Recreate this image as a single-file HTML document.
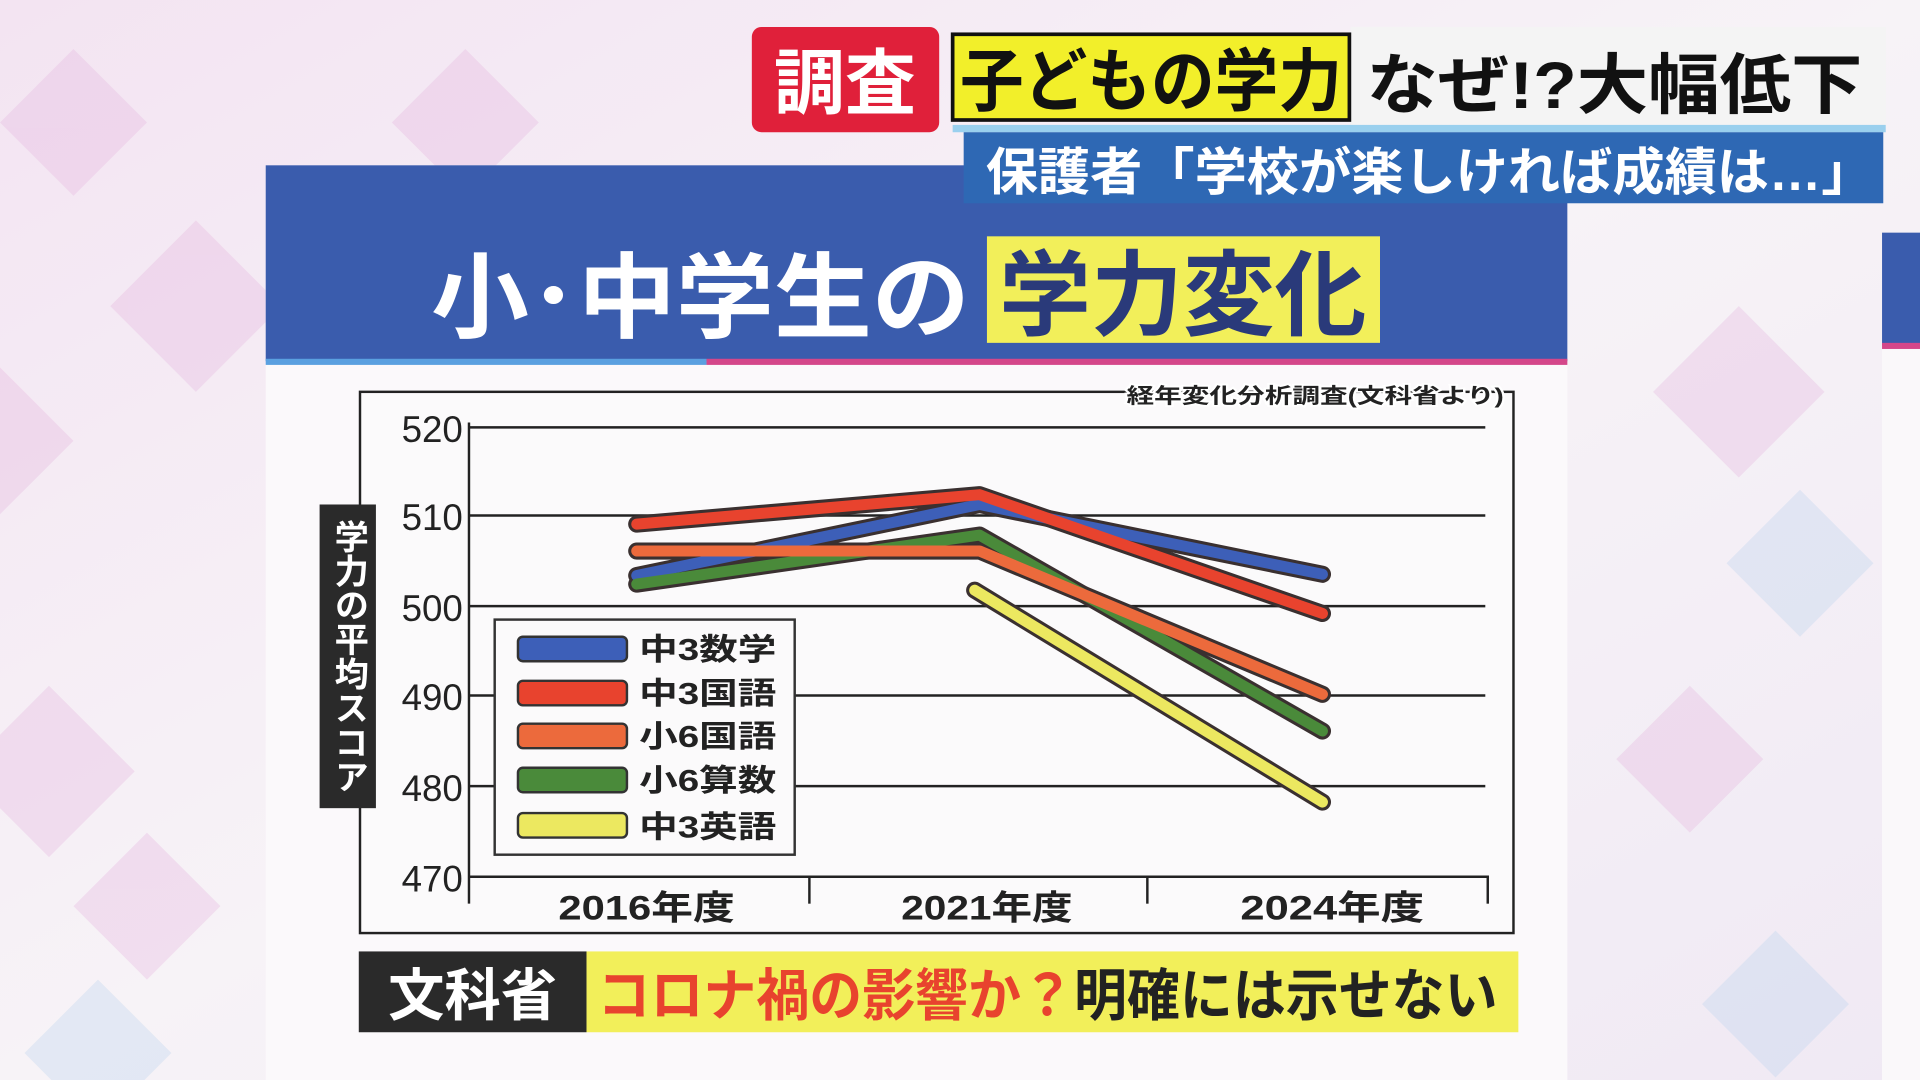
<!DOCTYPE html>
<html><head><meta charset="utf-8"><style>
html,body{margin:0;padding:0;width:1920px;height:1080px;overflow:hidden;background:#f4eff4}
#w{position:absolute;left:0;top:0;width:1568px;height:882px;transform:scale(1.22449);transform-origin:0 0;font-family:"Liberation Sans","Noto Sans CJK JP",sans-serif;font-weight:bold}
.a{position:absolute}
</style></head><body><div id="w">
<svg class="a" style="left:0;top:0" width="1568" height="882" font-family="Liberation Sans,Noto Sans CJK JP,sans-serif" font-weight="bold">
<defs><linearGradient id="bg" x1="0" y1="0" x2="1" y2="1"><stop offset="0" stop-color="#f3e4f2"/><stop offset="0.5" stop-color="#f7f3f7"/><stop offset="1" stop-color="#f0e9f4"/></linearGradient></defs>
<rect width="1568" height="882" fill="url(#bg)"/>
<g fill="#e6b8e0" opacity="0.35">
<polygon points="60,40 120,100 60,160 0,100"/><polygon points="160,180 230,250 160,320 90,250"/>
<polygon points="40,560 110,630 40,700 -30,630"/><polygon points="120,680 180,740 120,800 60,740"/>
<polygon points="0,300 60,360 0,420"/><polygon points="1420,250 1490,320 1420,390 1350,320"/>
<polygon points="1380,560 1440,620 1380,680 1320,620"/><polygon points="380,40 440,100 380,160 320,100"/>
</g>
<g fill="#bcd3ee" opacity="0.35"><polygon points="1470,400 1530,460 1470,520 1410,460"/><polygon points="1450,760 1510,820 1450,880 1390,820"/><polygon points="80,800 140,860 80,920 20,860"/></g>
<rect x="1537" y="190" width="31" height="92" fill="#3a5cad"/><rect x="1537" y="280" width="31" height="5" fill="#d4478a"/>
<rect x="1537" y="285" width="31" height="597" fill="#faf8fa"/>
<rect x="217" y="135" width="1063" height="747" fill="#fbf9fb"/>
<rect x="217" y="135" width="1063" height="160" fill="#3a5cad"/>
<rect x="217" y="293" width="360" height="5" fill="#5aa0e0"/><rect x="577" y="293" width="703" height="5" fill="#d4478a"/>
<rect x="806" y="193" width="321" height="87" fill="#f2ef5a"/>
<text x="352" y="270" font-size="76" fill="#fff" textLength="440" lengthAdjust="spacingAndGlyphs">小･中学生の</text>
<text x="816" y="268" font-size="76" fill="#2a3a7a" textLength="300" lengthAdjust="spacingAndGlyphs">学力変化</text>
<rect x="294" y="320" width="942" height="442" fill="#fbfafb" stroke="#222" stroke-width="2"/>
<g stroke="#222" stroke-width="2">
<line x1="383" y1="349" x2="1213" y2="349"/><line x1="383" y1="421" x2="1213" y2="421"/><line x1="383" y1="495" x2="1213" y2="495"/>
<line x1="383" y1="568" x2="1213" y2="568"/><line x1="383" y1="642" x2="1213" y2="642"/><line x1="383" y1="716" x2="1216" y2="716"/>
<line x1="383" y1="345" x2="383" y2="738"/><line x1="661" y1="716" x2="661" y2="738"/><line x1="937" y1="716" x2="937" y2="738"/><line x1="1215" y1="716" x2="1215" y2="738"/>
</g>
<g font-size="30" fill="#222" font-weight="normal" text-anchor="end">
<text x="378" y="361">520</text><text x="378" y="433">510</text><text x="378" y="507">500</text><text x="378" y="580">490</text><text x="378" y="654">480</text><text x="378" y="728">470</text></g>
<g font-size="28" fill="#222" text-anchor="middle">
<text x="528" y="751" textLength="144" lengthAdjust="spacingAndGlyphs">2016年度</text><text x="806" y="751" textLength="140" lengthAdjust="spacingAndGlyphs">2021年度</text><text x="1088" y="751" textLength="150" lengthAdjust="spacingAndGlyphs">2024年度</text></g>
<text x="920" y="329" font-size="17" fill="#222" stroke="#fff" stroke-width="3" paint-order="stroke" textLength="308" lengthAdjust="spacingAndGlyphs">経年変化分析調査(文科省より)</text>
<g fill="none" stroke-linecap="round" stroke-linejoin="round">
<g stroke="#3a3030" stroke-width="14">
<polyline points="520,470 800,412 1080,469"/><polyline points="520,428 800,404 1080,501"/><polyline points="520,450 800,450 1080,567"/><polyline points="520,477 800,437 1080,597"/><polyline points="796,482 1080,655"/></g>
<polyline points="520,470 800,412 1080,469" stroke="#3d5fb8" stroke-width="9"/>
<polyline points="520,477 800,437 1080,597" stroke="#4a8a3a" stroke-width="9"/>
<polyline points="520,450 800,450 1080,567" stroke="#ec6a3c" stroke-width="9"/>
<polyline points="520,428 800,404 1080,501" stroke="#e8432e" stroke-width="9"/>
<polyline points="796,482 1080,655" stroke="#ece860" stroke-width="9"/>
</g>
<rect x="404" y="506" width="245" height="192" fill="#fbfafb" stroke="#333" stroke-width="2"/>
<g stroke="#333" stroke-width="2"><rect x="423" y="520" width="89" height="20" rx="4" fill="#3d5fb8"/><rect x="423" y="556" width="89" height="20" rx="4" fill="#e8432e"/><rect x="423" y="591" width="89" height="20" rx="4" fill="#ec6a3c"/><rect x="423" y="627" width="89" height="20" rx="4" fill="#4a8a3a"/><rect x="423" y="664" width="89" height="20" rx="4" fill="#ece860"/></g>
<g font-size="25" fill="#222">
<text x="522" y="539" textLength="112" lengthAdjust="spacingAndGlyphs">中3数学</text><text x="522" y="575" textLength="112" lengthAdjust="spacingAndGlyphs">中3国語</text><text x="522" y="610" textLength="112" lengthAdjust="spacingAndGlyphs">小6国語</text><text x="522" y="646" textLength="112" lengthAdjust="spacingAndGlyphs">小6算数</text><text x="522" y="684" textLength="112" lengthAdjust="spacingAndGlyphs">中3英語</text></g>
<rect x="261" y="412" width="46" height="248" fill="#2a2a2a"/>
<text x="284" y="424" font-size="28" fill="#fff" style="writing-mode:vertical-rl">学力の平均スコア</text>
<rect x="293" y="777" width="186" height="66" fill="#2a2a2a"/><rect x="479" y="777" width="761" height="66" fill="#f2ef5a"/>
<text x="386" y="829" font-size="46" fill="#fff" text-anchor="middle">文科省</text>
<text x="488" y="829" font-size="46" textLength="735" lengthAdjust="spacingAndGlyphs"><tspan fill="#e8432e">コロナ禍の影響か？</tspan><tspan fill="#222">明確には示せない</tspan></text>
<rect x="1103" y="22" width="437" height="80" fill="#f4f4f4"/>
<rect x="614" y="22" width="153" height="86" rx="8" fill="#e0203a"/>
<text x="690" y="88" font-size="58" fill="#fff" text-anchor="middle">調査</text>
<rect x="778" y="28" width="324" height="70" fill="#f2ef2a" stroke="#111" stroke-width="3"/>
<text x="784" y="86" font-size="56" fill="#111" textLength="312" lengthAdjust="spacingAndGlyphs">子どもの学力</text>
<text x="1116" y="88" font-size="54" fill="#111" textLength="405" lengthAdjust="spacingAndGlyphs">なぜ!?大幅低下</text>
<rect x="778" y="102" width="762" height="6" fill="#9ad0ee"/>
<rect x="787" y="108" width="751" height="58" fill="#2e68b4"/>
<text x="805" y="155" font-size="42" fill="#fff" textLength="725" lengthAdjust="spacingAndGlyphs">保護者「学校が楽しければ成績は…」</text>
</svg>
</div></body></html>
